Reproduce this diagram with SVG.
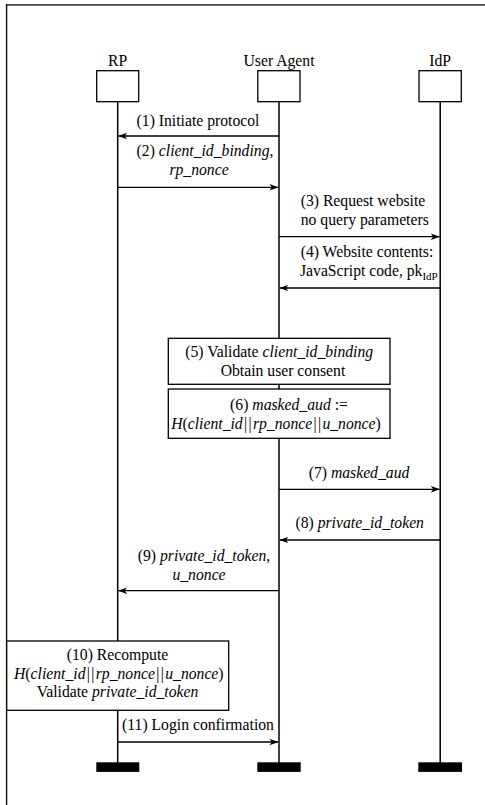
<svg xmlns="http://www.w3.org/2000/svg" width="485" height="805" viewBox="0 0 485 805" font-family="'Liberation Serif', 'DejaVu Serif', serif">
  <style>
    text { font-family: 'Liberation Serif', 'Times New Roman', 'DejaVu Serif', serif; font-size: 15.7px; fill: #000; }
    .c { text-anchor: middle; }
    .s { text-anchor: start; }
    .i { font-style: italic; }
    .head { fill: #fff; stroke: #000; stroke-width: 1.3; }
    .box { fill: #fff; stroke: #000; stroke-width: 1.3; }
    .life { stroke: #000; stroke-width: 1.5; fill: none; }
    .msg { stroke: #000; stroke-width: 1.3; fill: none; marker-end: url(#ah); }
    .end { fill: #000; }
  </style>
  <defs>
    <marker id="ah" viewBox="0 0 10 8" refX="9.5" refY="4" markerWidth="9" markerHeight="7.2" markerUnits="userSpaceOnUse" orient="auto">
      <path d="M0,0.4 L10,4 L0,7.6 L2.6,4 Z" fill="#000"/>
    </marker>
  </defs>
  <rect width="485" height="805" fill="#fff"/>
  <g id="frame">
    <rect x="5.8" y="4" width="480" height="1.8" fill="#4a4a4a"/>
    <line x1="6.6" y1="4" x2="6.6" y2="805" stroke="#111" stroke-width="1.4"/>
  </g>
  <g id="lifelines">
    <line class="life" x1="117.7" y1="101.7" x2="117.7" y2="763"/>
    <line class="life" x1="279" y1="101.7" x2="279" y2="763"/>
    <line class="life" x1="440.2" y1="101.7" x2="440.2" y2="763"/>
  </g>
  <g id="RP">
    <text class="c" x="117.7" y="65.5">RP</text>
    <rect class="head" x="96.7" y="70.7" width="42" height="31"/>
    <rect class="end" x="96.3" y="762.3" width="43" height="9.6"/>
  </g>
  <g id="UserAgent">
    <text class="c" x="279" y="65.5">User Agent</text>
    <rect class="head" x="257.8" y="70.7" width="42.2" height="31"/>
    <rect class="end" x="257.3" y="762.3" width="43.4" height="9.6"/>
  </g>
  <g id="IdP">
    <text class="c" x="440.2" y="65.5">IdP</text>
    <rect class="head" x="419" y="70.7" width="42.3" height="31"/>
    <rect class="end" x="418.3" y="762.3" width="43.7" height="9.6"/>
  </g>
  <g id="connectors">
    <line class="msg" x1="279" y1="136" x2="118.5" y2="136"/>
    <line class="msg" x1="117.7" y1="187.3" x2="278" y2="187.3"/>
    <line class="msg" x1="279" y1="236.7" x2="439.4" y2="236.7"/>
    <line class="msg" x1="440.2" y1="288" x2="279.8" y2="288"/>
    <line class="msg" x1="279" y1="489.3" x2="439.4" y2="489.3"/>
    <line class="msg" x1="440.2" y1="540" x2="279.8" y2="540"/>
    <line class="msg" x1="279" y1="590.7" x2="118.5" y2="590.7"/>
    <line class="msg" x1="117.7" y1="742" x2="278" y2="742"/>
  </g>
  <g id="labels">
    <text class="c" x="198" y="125.5">(1) Initiate protocol</text>
    <text class="c" x="205" y="156">(2) <tspan class="i">client_id_binding</tspan>,</text>
    <text class="c" x="199" y="174.5"><tspan class="i">rp_nonce</tspan></text>
    <text class="s" x="300.7" y="206">(3) Request website</text>
    <text class="s" x="300.7" y="225">no query parameters</text>
    <text class="s" x="300.7" y="256.7">(4) Website contents:</text>
    <text class="s" x="300" y="276">JavaScript code, pk<tspan font-size="11px" dy="3.5">IdP</tspan></text>
    <text class="c" x="359" y="477.5">(7) <tspan class="i">masked_aud</tspan></text>
    <text class="c" x="359.7" y="528">(8) <tspan class="i">private_id_token</tspan></text>
    <text class="c" x="204" y="560.7">(9) <tspan class="i">private_id_token</tspan>,</text>
    <text class="c" x="199" y="579.5"><tspan class="i">u_nonce</tspan></text>
    <text class="c" x="198" y="730">(11) Login confirmation</text>
  </g>
  <g id="step5">
    <rect class="box" x="168.3" y="338.3" width="221.7" height="46"/>
    <text class="c" x="279.2" y="357">(5) Validate <tspan class="i">client_id_binding</tspan></text>
    <text class="c" x="283" y="375.7">Obtain user consent</text>
  </g>
  <g id="step6">
    <rect class="box" x="168.3" y="389" width="221.7" height="49.3"/>
    <text class="c" x="289" y="410">(6) <tspan class="i">masked_aud</tspan> :=</text>
    <text class="c" x="276" y="429.3"><tspan class="i">H</tspan>(<tspan class="i">client_id</tspan>&#8202;|&#8202;|&#8202;<tspan class="i">rp_nonce</tspan>&#8202;|&#8202;|&#8202;<tspan class="i">u_nonce</tspan>)</text>
  </g>
  <g id="step10">
    <rect class="box" x="6.7" y="641" width="222" height="69.3"/>
    <text class="c" x="117.5" y="660">(10) Recompute</text>
    <text class="c" x="118.8" y="679"><tspan class="i">H</tspan>(<tspan class="i">client_id</tspan>&#8202;|&#8202;|&#8202;<tspan class="i">rp_nonce</tspan>&#8202;|&#8202;|&#8202;<tspan class="i">u_nonce</tspan>)</text>
    <text class="c" x="117.5" y="696.7">Validate <tspan class="i">private_id_token</tspan></text>
  </g>
</svg>
